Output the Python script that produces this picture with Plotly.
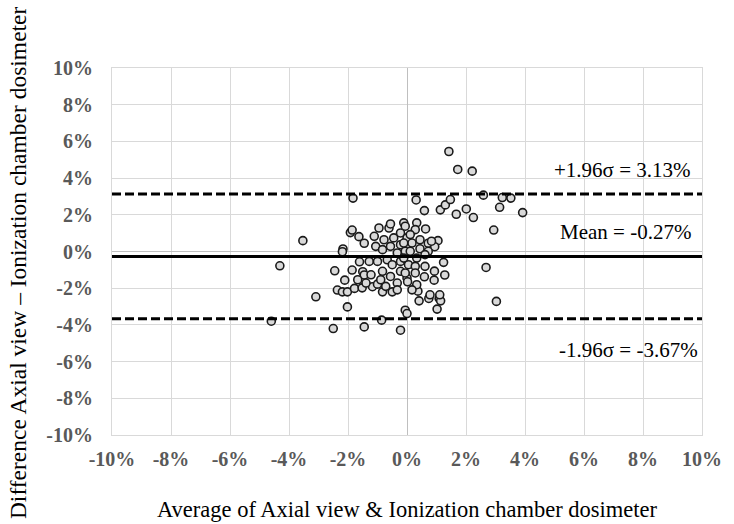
import plotly.graph_objects as go

# Bland-Altman data (percent)
avg_pct = [
    1.42, 1.72, 2.21, 0.31, 0.59, 1.13, 1.30, 1.47, 1.67, 2.01,
    2.25, 2.59, 3.14, 3.23, 3.52, 3.92, -1.83, 2.94, 2.68, 3.03,
    1.05, 0.63, 1.24, 0.93, 1.28, 0.92, 0.59, 0.37, 0.74, 0.41,
    1.09, 1.14, 1.02, -0.06, 0.00, 0.72, 0.94, -4.60, -4.31, -3.53,
    -3.09, -2.50, -2.45, -2.17, -2.19, -1.92, -1.86, -1.63, -1.45, -2.11,
    -2.36, -2.19, -2.02, -1.78, -1.52, -2.02, -1.86, -1.50, -1.45, -1.45,
    -0.86, -0.22, -1.17, -1.00, -0.83, -0.50, -1.11, -0.95, -0.61, -0.56,
    -0.11, -0.22, -0.45, -0.78, -1.06, -0.83, -0.56, -0.22, 0.00, -0.06,
    -0.33, -1.28, -1.00, -0.67, -0.50, -0.22, 0.05, -1.22, -0.83, -0.89,
    -0.56, -0.22, 0.00, -0.33, -1.67, -1.39, -0.72, -0.33, -0.06, 0.33,
    0.28, 0.11, -0.11, 0.17, 0.44, 0.83, 0.11, 0.44, 0.72, -0.11,
    0.33, 0.61, 0.28, 0.61, -0.06, 0.28, 0.02, 0.33, 0.17, 0.78,
    1.11, -1.61,
]
diff_pct = [
    5.45, 4.47, 4.38, 2.81, 2.23, 2.27, 2.54, 2.83, 2.03, 2.32,
    1.85, 3.07, 2.41, 2.94, 2.91, 2.12, 2.91, 1.17, -0.87, -2.72,
    0.59, 1.23, -0.59, -1.07, -1.28, -1.56, -1.38, -2.16, -2.56, -2.69,
    -2.56, -2.69, -3.14, -3.20, -3.38, 0.45, 0.26, -3.80, -0.78, 0.59,
    -2.47, -4.20, -1.05, 0.14, -0.01, 1.03, 1.17, 0.81, 0.45, -1.56,
    -2.10, -2.20, -2.20, -2.01, -1.98, -3.02, -1.01, -1.10, -1.28, -4.11,
    -3.74, -4.29, -1.92, -1.78, -2.20, -2.20, 0.83, 1.28, 1.28, 1.50,
    1.56, 1.01, 0.74, 0.64, 0.28, 0.10, 0.28, 0.37, 0.74, 0.01,
    -0.08, -0.54, -0.54, -0.45, -0.72, -0.54, -0.72, -1.27, -1.08, -1.54,
    -1.36, -1.08, -1.45, -1.72, -1.54, -1.72, -1.90, -2.09, 1.38, 1.56,
    1.19, 0.92, 0.46, 0.46, 0.64, 0.56, 0.01, 0.15, 0.01, -0.36,
    -0.36, -0.17, -0.81, -0.81, -1.17, -1.17, -1.65, -1.81, -2.09, -2.36,
    -2.36, -0.56,
]

mean_diff = -0.27
upper_loa = 3.13
lower_loa = -3.67
x_range = [-10, 10]

tick_vals = [-10, -8, -6, -4, -2, 0, 2, 4, 6, 8, 10]
tick_text = ["-10%", "-8%", "-6%", "-4%", "-2%", "0%", "2%", "4%", "6%", "8%", "10%"]

labels = ["+1.96σ = 3.13%", "Mean = -0.27%", "-1.96σ = -3.67%"]

FONT = "Liberation Serif"

fig = go.Figure()

fig.add_trace(go.Scatter(
    x=avg_pct, y=diff_pct, mode="markers",
    marker=dict(size=8, color="#d9d9d9", line=dict(color="#1a1a1a", width=1.6)),
    showlegend=False, hoverinfo="skip",
))

for val, dash in [(upper_loa, "9px,4px"), (mean_diff, "solid"), (lower_loa, "9px,4px")]:
    fig.add_trace(go.Scatter(
        x=x_range, y=[val, val], mode="lines",
        line=dict(color="black", width=3, dash=dash),
        showlegend=False, hoverinfo="skip",
    ))

ann_pos = [(7.3, 4.45), (7.4, 1.07), (7.5, -5.38)]
annotations = []
for text, (ax_, ay_) in zip(labels, ann_pos):
    annotations.append(dict(
        x=ax_, y=ay_, xref="x", yref="y", text=text, showarrow=False,
        font=dict(family=FONT, size=21, color="black"),
        xanchor="center", yanchor="middle",
    ))

annotations.append(dict(
    x=0.5, y=-0.203, xref="paper", yref="paper",
    text="Average of Axial view & Ionization chamber dosimeter",
    showarrow=False, font=dict(family=FONT, size=22.5, color="black"),
    xanchor="center", yanchor="middle",
))
annotations.append(dict(
    x=-0.16, y=0.47, xref="paper", yref="paper",
    text="Difference Axial view – Ionization chamber dosimeter",
    showarrow=False, textangle=-90,
    font=dict(family=FONT, size=23.5, color="black"),
    xanchor="center", yanchor="middle",
))

axis_common = dict(
    showgrid=True, gridcolor="#d9d9d9", gridwidth=1,
    showline=True, linecolor="#d9d9d9", linewidth=1, mirror=True,
    zeroline=True, zerolinecolor="#bfbfbf", zerolinewidth=1,
    ticks="", tickmode="array", tickvals=tick_vals, ticktext=tick_text,
    tickfont=dict(family=FONT, size=20, color="#595959", weight="bold"),
    range=x_range,
    fixedrange=True,
)

fig.update_layout(
    width=734, height=524,
    margin=dict(l=112, r=22, t=68, b=89),
    paper_bgcolor="white", plot_bgcolor="white",
    xaxis=dict(**axis_common, ticklabelstandoff=6),
    yaxis=dict(**axis_common, ticklabelstandoff=14),
    annotations=annotations,
)

fig.write_html("out.html")
